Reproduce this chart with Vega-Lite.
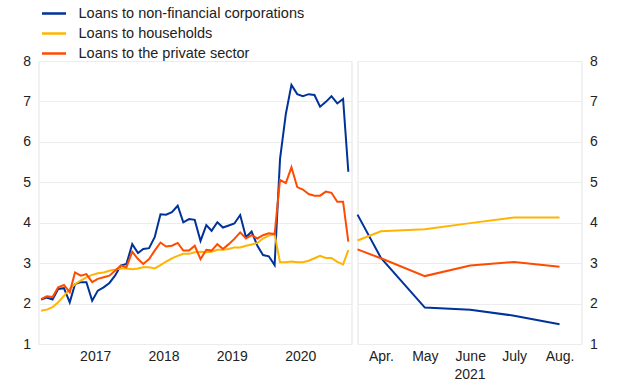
{
  "$schema": "https://vega.github.io/schema/vega-lite/v6.json",
  "padding": {"left": 21.5, "top": 0, "right": 5, "bottom": 3},
  "spacing": -1,
  "config": {
    "font": "Liberation Sans",
    "view": {"stroke": "#e3e3e3", "strokeWidth": 1},
    "axis": {"labelFont": "Liberation Sans", "labelFontSize": 14, "labelColor": "#222", "titleFont": "Liberation Sans", "titleFontSize": 14, "titleFontWeight": "normal", "titleColor": "#222", "gridColor": "#ececec", "domain": false, "ticks": false}
  },
  "datasets": {
    "hist": [
      {"date":"2016-09-15","series":"Loans to non-financial corporations","value":2.10},
      {"date":"2016-10-15","series":"Loans to non-financial corporations","value":2.15},
      {"date":"2016-11-15","series":"Loans to non-financial corporations","value":2.10},
      {"date":"2016-12-15","series":"Loans to non-financial corporations","value":2.36},
      {"date":"2017-01-15","series":"Loans to non-financial corporations","value":2.38},
      {"date":"2017-02-15","series":"Loans to non-financial corporations","value":2.03},
      {"date":"2017-03-15","series":"Loans to non-financial corporations","value":2.48},
      {"date":"2017-04-15","series":"Loans to non-financial corporations","value":2.53},
      {"date":"2017-05-15","series":"Loans to non-financial corporations","value":2.53},
      {"date":"2017-06-15","series":"Loans to non-financial corporations","value":2.07},
      {"date":"2017-07-15","series":"Loans to non-financial corporations","value":2.32},
      {"date":"2017-08-15","series":"Loans to non-financial corporations","value":2.40},
      {"date":"2017-09-15","series":"Loans to non-financial corporations","value":2.51},
      {"date":"2017-10-15","series":"Loans to non-financial corporations","value":2.69},
      {"date":"2017-11-15","series":"Loans to non-financial corporations","value":2.94},
      {"date":"2017-12-15","series":"Loans to non-financial corporations","value":2.98},
      {"date":"2018-01-15","series":"Loans to non-financial corporations","value":3.47},
      {"date":"2018-02-15","series":"Loans to non-financial corporations","value":3.25},
      {"date":"2018-03-15","series":"Loans to non-financial corporations","value":3.35},
      {"date":"2018-04-15","series":"Loans to non-financial corporations","value":3.37},
      {"date":"2018-05-15","series":"Loans to non-financial corporations","value":3.64},
      {"date":"2018-06-15","series":"Loans to non-financial corporations","value":4.21},
      {"date":"2018-07-15","series":"Loans to non-financial corporations","value":4.20},
      {"date":"2018-08-15","series":"Loans to non-financial corporations","value":4.26},
      {"date":"2018-09-15","series":"Loans to non-financial corporations","value":4.42},
      {"date":"2018-10-15","series":"Loans to non-financial corporations","value":4.01},
      {"date":"2018-11-15","series":"Loans to non-financial corporations","value":4.09},
      {"date":"2018-12-15","series":"Loans to non-financial corporations","value":4.07},
      {"date":"2019-01-15","series":"Loans to non-financial corporations","value":3.55},
      {"date":"2019-02-15","series":"Loans to non-financial corporations","value":3.94},
      {"date":"2019-03-15","series":"Loans to non-financial corporations","value":3.80},
      {"date":"2019-04-15","series":"Loans to non-financial corporations","value":4.01},
      {"date":"2019-05-15","series":"Loans to non-financial corporations","value":3.88},
      {"date":"2019-06-15","series":"Loans to non-financial corporations","value":3.93},
      {"date":"2019-07-15","series":"Loans to non-financial corporations","value":3.98},
      {"date":"2019-08-15","series":"Loans to non-financial corporations","value":4.19},
      {"date":"2019-09-15","series":"Loans to non-financial corporations","value":3.64},
      {"date":"2019-10-15","series":"Loans to non-financial corporations","value":3.78},
      {"date":"2019-11-15","series":"Loans to non-financial corporations","value":3.43},
      {"date":"2019-12-15","series":"Loans to non-financial corporations","value":3.20},
      {"date":"2020-01-15","series":"Loans to non-financial corporations","value":3.17},
      {"date":"2020-02-15","series":"Loans to non-financial corporations","value":2.95},
      {"date":"2020-03-15","series":"Loans to non-financial corporations","value":5.58},
      {"date":"2020-04-15","series":"Loans to non-financial corporations","value":6.69},
      {"date":"2020-05-15","series":"Loans to non-financial corporations","value":7.41},
      {"date":"2020-06-15","series":"Loans to non-financial corporations","value":7.18},
      {"date":"2020-07-15","series":"Loans to non-financial corporations","value":7.13},
      {"date":"2020-08-15","series":"Loans to non-financial corporations","value":7.18},
      {"date":"2020-09-15","series":"Loans to non-financial corporations","value":7.16},
      {"date":"2020-10-15","series":"Loans to non-financial corporations","value":6.87},
      {"date":"2020-11-15","series":"Loans to non-financial corporations","value":6.99},
      {"date":"2020-12-15","series":"Loans to non-financial corporations","value":7.13},
      {"date":"2021-01-15","series":"Loans to non-financial corporations","value":6.95},
      {"date":"2021-02-15","series":"Loans to non-financial corporations","value":7.06},
      {"date":"2021-03-15","series":"Loans to non-financial corporations","value":5.26},
      {"date":"2016-09-15","series":"Loans to households","value":1.82},
      {"date":"2016-10-15","series":"Loans to households","value":1.85},
      {"date":"2016-11-15","series":"Loans to households","value":1.91},
      {"date":"2016-12-15","series":"Loans to households","value":2.03},
      {"date":"2017-01-15","series":"Loans to households","value":2.19},
      {"date":"2017-02-15","series":"Loans to households","value":2.36},
      {"date":"2017-03-15","series":"Loans to households","value":2.48},
      {"date":"2017-04-15","series":"Loans to households","value":2.57},
      {"date":"2017-05-15","series":"Loans to households","value":2.65},
      {"date":"2017-06-15","series":"Loans to households","value":2.71},
      {"date":"2017-07-15","series":"Loans to households","value":2.75},
      {"date":"2017-08-15","series":"Loans to households","value":2.77},
      {"date":"2017-09-15","series":"Loans to households","value":2.81},
      {"date":"2017-10-15","series":"Loans to households","value":2.84},
      {"date":"2017-11-15","series":"Loans to households","value":2.87},
      {"date":"2017-12-15","series":"Loans to households","value":2.87},
      {"date":"2018-01-15","series":"Loans to households","value":2.85},
      {"date":"2018-02-15","series":"Loans to households","value":2.87},
      {"date":"2018-03-15","series":"Loans to households","value":2.90},
      {"date":"2018-04-15","series":"Loans to households","value":2.90},
      {"date":"2018-05-15","series":"Loans to households","value":2.87},
      {"date":"2018-06-15","series":"Loans to households","value":2.95},
      {"date":"2018-07-15","series":"Loans to households","value":3.04},
      {"date":"2018-08-15","series":"Loans to households","value":3.12},
      {"date":"2018-09-15","series":"Loans to households","value":3.18},
      {"date":"2018-10-15","series":"Loans to households","value":3.23},
      {"date":"2018-11-15","series":"Loans to households","value":3.23},
      {"date":"2018-12-15","series":"Loans to households","value":3.27},
      {"date":"2019-01-15","series":"Loans to households","value":3.28},
      {"date":"2019-02-15","series":"Loans to households","value":3.27},
      {"date":"2019-03-15","series":"Loans to households","value":3.28},
      {"date":"2019-04-15","series":"Loans to households","value":3.33},
      {"date":"2019-05-15","series":"Loans to households","value":3.33},
      {"date":"2019-06-15","series":"Loans to households","value":3.35},
      {"date":"2019-07-15","series":"Loans to households","value":3.39},
      {"date":"2019-08-15","series":"Loans to households","value":3.39},
      {"date":"2019-09-15","series":"Loans to households","value":3.43},
      {"date":"2019-10-15","series":"Loans to households","value":3.46},
      {"date":"2019-11-15","series":"Loans to households","value":3.50},
      {"date":"2019-12-15","series":"Loans to households","value":3.61},
      {"date":"2020-01-15","series":"Loans to households","value":3.68},
      {"date":"2020-02-15","series":"Loans to households","value":3.72},
      {"date":"2020-03-15","series":"Loans to households","value":3.02},
      {"date":"2020-04-15","series":"Loans to households","value":3.02},
      {"date":"2020-05-15","series":"Loans to households","value":3.04},
      {"date":"2020-06-15","series":"Loans to households","value":3.02},
      {"date":"2020-07-15","series":"Loans to households","value":3.02},
      {"date":"2020-08-15","series":"Loans to households","value":3.06},
      {"date":"2020-09-15","series":"Loans to households","value":3.12},
      {"date":"2020-10-15","series":"Loans to households","value":3.18},
      {"date":"2020-11-15","series":"Loans to households","value":3.13},
      {"date":"2020-12-15","series":"Loans to households","value":3.13},
      {"date":"2021-01-15","series":"Loans to households","value":3.03},
      {"date":"2021-02-15","series":"Loans to households","value":2.97},
      {"date":"2021-03-15","series":"Loans to households","value":3.32},
      {"date":"2016-09-15","series":"Loans to the private sector","value":2.11},
      {"date":"2016-10-15","series":"Loans to the private sector","value":2.18},
      {"date":"2016-11-15","series":"Loans to the private sector","value":2.16},
      {"date":"2016-12-15","series":"Loans to the private sector","value":2.40},
      {"date":"2017-01-15","series":"Loans to the private sector","value":2.46},
      {"date":"2017-02-15","series":"Loans to the private sector","value":2.28},
      {"date":"2017-03-15","series":"Loans to the private sector","value":2.77},
      {"date":"2017-04-15","series":"Loans to the private sector","value":2.69},
      {"date":"2017-05-15","series":"Loans to the private sector","value":2.73},
      {"date":"2017-06-15","series":"Loans to the private sector","value":2.53},
      {"date":"2017-07-15","series":"Loans to the private sector","value":2.61},
      {"date":"2017-08-15","series":"Loans to the private sector","value":2.65},
      {"date":"2017-09-15","series":"Loans to the private sector","value":2.69},
      {"date":"2017-10-15","series":"Loans to the private sector","value":2.81},
      {"date":"2017-11-15","series":"Loans to the private sector","value":2.94},
      {"date":"2017-12-15","series":"Loans to the private sector","value":2.90},
      {"date":"2018-01-15","series":"Loans to the private sector","value":3.28},
      {"date":"2018-02-15","series":"Loans to the private sector","value":3.10},
      {"date":"2018-03-15","series":"Loans to the private sector","value":2.98},
      {"date":"2018-04-15","series":"Loans to the private sector","value":3.10},
      {"date":"2018-05-15","series":"Loans to the private sector","value":3.31},
      {"date":"2018-06-15","series":"Loans to the private sector","value":3.51},
      {"date":"2018-07-15","series":"Loans to the private sector","value":3.41},
      {"date":"2018-08-15","series":"Loans to the private sector","value":3.43},
      {"date":"2018-09-15","series":"Loans to the private sector","value":3.50},
      {"date":"2018-10-15","series":"Loans to the private sector","value":3.31},
      {"date":"2018-11-15","series":"Loans to the private sector","value":3.31},
      {"date":"2018-12-15","series":"Loans to the private sector","value":3.43},
      {"date":"2019-01-15","series":"Loans to the private sector","value":3.10},
      {"date":"2019-02-15","series":"Loans to the private sector","value":3.33},
      {"date":"2019-03-15","series":"Loans to the private sector","value":3.31},
      {"date":"2019-04-15","series":"Loans to the private sector","value":3.47},
      {"date":"2019-05-15","series":"Loans to the private sector","value":3.35},
      {"date":"2019-06-15","series":"Loans to the private sector","value":3.47},
      {"date":"2019-07-15","series":"Loans to the private sector","value":3.60},
      {"date":"2019-08-15","series":"Loans to the private sector","value":3.76},
      {"date":"2019-09-15","series":"Loans to the private sector","value":3.61},
      {"date":"2019-10-15","series":"Loans to the private sector","value":3.69},
      {"date":"2019-11-15","series":"Loans to the private sector","value":3.61},
      {"date":"2019-12-15","series":"Loans to the private sector","value":3.69},
      {"date":"2020-01-15","series":"Loans to the private sector","value":3.74},
      {"date":"2020-02-15","series":"Loans to the private sector","value":3.72},
      {"date":"2020-03-15","series":"Loans to the private sector","value":5.06},
      {"date":"2020-04-15","series":"Loans to the private sector","value":4.98},
      {"date":"2020-05-15","series":"Loans to the private sector","value":5.37},
      {"date":"2020-06-15","series":"Loans to the private sector","value":4.88},
      {"date":"2020-07-15","series":"Loans to the private sector","value":4.82},
      {"date":"2020-08-15","series":"Loans to the private sector","value":4.71},
      {"date":"2020-09-15","series":"Loans to the private sector","value":4.67},
      {"date":"2020-10-15","series":"Loans to the private sector","value":4.67},
      {"date":"2020-11-15","series":"Loans to the private sector","value":4.77},
      {"date":"2020-12-15","series":"Loans to the private sector","value":4.74},
      {"date":"2021-01-15","series":"Loans to the private sector","value":4.52},
      {"date":"2021-02-15","series":"Loans to the private sector","value":4.52},
      {"date":"2021-03-15","series":"Loans to the private sector","value":3.53}
    ],
    "proj": [
      {"date":"2021-03-16","series":"Loans to non-financial corporations","value":4.20},
      {"date":"2021-04-01","series":"Loans to non-financial corporations","value":3.13},
      {"date":"2021-05-01","series":"Loans to non-financial corporations","value":1.90},
      {"date":"2021-06-01","series":"Loans to non-financial corporations","value":1.85},
      {"date":"2021-07-01","series":"Loans to non-financial corporations","value":1.70},
      {"date":"2021-08-01","series":"Loans to non-financial corporations","value":1.49},
      {"date":"2021-03-16","series":"Loans to households","value":3.56},
      {"date":"2021-04-01","series":"Loans to households","value":3.79},
      {"date":"2021-05-01","series":"Loans to households","value":3.84},
      {"date":"2021-06-01","series":"Loans to households","value":3.99},
      {"date":"2021-07-01","series":"Loans to households","value":4.13},
      {"date":"2021-08-01","series":"Loans to households","value":4.13},
      {"date":"2021-03-16","series":"Loans to the private sector","value":3.34},
      {"date":"2021-04-01","series":"Loans to the private sector","value":3.12},
      {"date":"2021-05-01","series":"Loans to the private sector","value":2.68},
      {"date":"2021-06-01","series":"Loans to the private sector","value":2.94},
      {"date":"2021-07-01","series":"Loans to the private sector","value":3.03},
      {"date":"2021-08-01","series":"Loans to the private sector","value":2.91}
    ]
  },
  "resolve": {"scale": {"color": "shared"}},
  "hconcat": [
    {
      "width": 313,
      "height": 283,
      "data": {"name": "hist"},
      "mark": {"type": "line", "strokeWidth": 2},
      "encoding": {
        "x": {"field": "date", "type": "temporal", "scale": {"type": "utc", "domain": ["2016-09-01", "2021-04-01"]},
              "axis": {"title": null, "grid": false, "values": ["2017-07-01", "2018-07-01", "2019-07-01", "2020-07-01"], "labelExpr": "utcFormat(datum.value, '%Y')", "labelPadding": 5}},
        "y": {"field": "value", "type": "quantitative", "scale": {"domain": [1, 8], "nice": false, "zero": false},
              "axis": {"title": null, "values": [1, 2, 3, 4, 5, 6, 7, 8], "labelPadding": 8}},
        "color": {"field": "series", "type": "nominal",
                  "scale": {"domain": ["Loans to non-financial corporations", "Loans to households", "Loans to the private sector"], "range": ["#003299", "#ffb400", "#ff4b00"]},
                  "legend": {"orient": "none", "legendX": 2, "legendY": -61, "title": null, "symbolType": "stroke", "symbolSize": 576, "symbolStrokeWidth": 2.5, "labelFontSize": 14.5, "labelLimit": 500, "labelColor": "#222", "labelFont": "Liberation Sans", "labelOffset": 11, "rowPadding": -9}}
      }
    },
    {
      "width": 224,
      "height": 283,
      "data": {"name": "proj"},
      "mark": {"type": "line", "strokeWidth": 2},
      "encoding": {
        "x": {"field": "date", "type": "temporal", "scale": {"type": "utc", "domain": ["2021-03-16", "2021-08-16"]},
              "axis": {"title": "2021", "titlePadding": 4, "grid": false, "values": ["2021-04-01", "2021-05-01", "2021-06-01", "2021-07-01", "2021-08-01"], "labelExpr": "['Apr.','May','June','July','Aug.'][utcmonth(datum.value)-3]", "labelPadding": 5}},
        "y": {"field": "value", "type": "quantitative", "scale": {"domain": [1, 8], "nice": false, "zero": false},
              "axis": {"title": null, "orient": "right", "values": [1, 2, 3, 4, 5, 6, 7, 8], "labelPadding": 8}},
        "color": {"field": "series", "type": "nominal", "legend": null}
      }
    }
  ]
}
